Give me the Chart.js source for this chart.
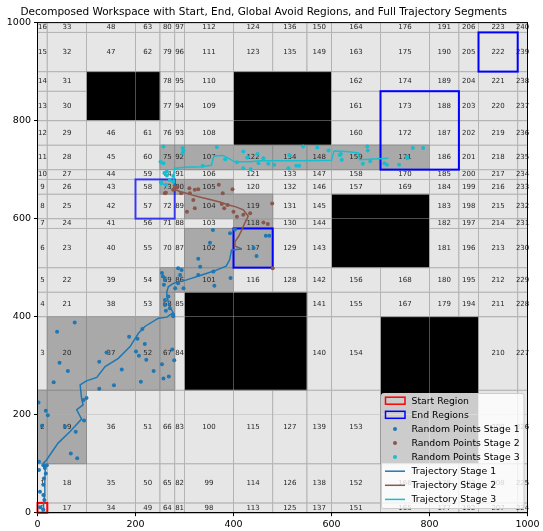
<!DOCTYPE html>
<html>
<head>
<meta charset="utf-8">
<script src="https://cdn.jsdelivr.net/npm/chart.js@4"></script>
<style>
  body { margin: 0; background: #fff; }
</style>
</head>
<body>
<canvas id="chart" width="543" height="531"></canvas>
<script>
// cell decomposition edges
const colEdges = [0, 20, 100, 200, 250, 280, 300, 400, 480, 550, 600, 700, 800, 860, 900, 980, 1000]
const rowEdges = [0, 20, 100, 250, 400, 450, 500, 580, 600, 650, 680, 700, 750, 800, 860, 900, 980, 1000]

// global avoid regions [x0, x1, y0, y1]
const obstacles = [
  [100, 250, 800, 900],
  [400, 600, 750, 900],
  [300, 550, 250, 450],
  [600, 800, 500, 650],
  [700, 900, 100, 400],
]

// cells used by the trajectory stages
const stageCells = [2, 19, 20, 37, 52, 67, 68, 69, 86, 101, 102, 117, 118, 104, 119, 73, 90, 105,
  75, 92, 107, 122, 134, 148, 159, 171]

const startRegion = [0, 20, 0, 20]
const endRegions = [
  [200, 280, 600, 680],
  [400, 480, 500, 580],
  [700, 860, 700, 860],
  [900, 980, 900, 980],
]

const trajStage1 = [
  [10, 2], [12, 12], [14, 33], [15, 67], [16, 94], [12, 101], [18, 107], [42, 142], [66, 165],
  [90, 191], [80, 210], [93, 220], [90, 233], [87, 261], [100, 269], [121, 276], [138, 298],
  [165, 315], [189, 339], [206, 366], [219, 380], [247, 397], [264, 399], [277, 408], [270, 420],
  [264, 441], [264, 451], [267, 461], [277, 468], [287, 471], [298, 473], [332, 484], [360, 493],
  [385, 503], [392, 516], [396, 536], [417, 538],
]
const trajStage2 = [
  [417, 538], [403, 544], [403, 553], [410, 563], [417, 577], [423, 591], [430, 605], [420, 618],
  [405, 624], [390, 628], [372, 634], [352, 639], [335, 643], [316, 648], [304, 652], [292, 655],
  [281, 659], [277, 669],
]
const trajStage3 = [
  [277, 669], [278, 676], [278, 691], [280, 703], [300, 705], [335, 706], [355, 709], [360, 728],
  [379, 729], [403, 716], [434, 716], [454, 718], [488, 718], [542, 718], [600, 719], [605, 738],
  [631, 737], [655, 734], [657, 720], [716, 723],
]

const pointsStage1 = [
  [76, 388], [40, 369], [45, 306], [62, 289], [33, 266], [141, 327], [126, 308], [172, 292],
  [126, 253], [156, 260], [187, 359], [204, 355], [214, 375], [201, 329], [207, 320], [219, 344],
  [222, 312], [237, 289], [211, 267], [254, 303], [257, 274], [268, 278], [275, 333], [279, 311],
  [262, 412], [277, 401], [260, 424], [100, 234], [94, 230], [95, 188], [78, 165], [56, 176],
  [68, 121], [81, 111], [17, 208], [21, 199], [9, 177], [2, 225], [3, 104], [12, 97], [19, 97],
  [3, 87], [15, 91], [17, 80], [13, 70], [12, 57], [5, 43], [12, 36], [14, 26], [5, 11], [12, 6],
  [254, 489], [256, 482], [260, 475], [258, 465], [287, 499], [291, 485], [281, 458], [298, 458],
  [287, 468], [267, 441], [260, 434], [270, 417], [277, 404], [294, 495], [328, 485], [359, 492],
  [361, 463], [394, 479], [332, 502], [328, 518], [352, 551], [358, 577], [393, 570], [403, 578],
  [441, 540], [447, 524], [466, 565], [473, 565],
]
const pointsStage2 = [
  [260, 652], [277, 659], [293, 652], [285, 664], [311, 652], [321, 659], [328, 660], [318, 638],
  [305, 614], [321, 621], [370, 669], [378, 652], [398, 660], [388, 628], [381, 621], [400, 614],
  [407, 604], [420, 608], [434, 611], [479, 631], [461, 592], [470, 589], [480, 499], [310, 662],
  [376, 630], [262, 653], [281, 665],
]
const pointsStage3 = [
  [257, 747], [296, 744], [251, 716], [257, 713], [366, 746], [337, 708], [259, 693], [264, 688],
  [277, 676], [252, 674], [262, 669], [383, 721], [420, 737], [449, 732], [451, 713], [471, 712],
  [483, 710], [428, 725], [298, 739], [296, 734], [420, 703], [435, 701], [407, 715], [264, 696],
  [270, 679], [253, 672], [277, 687], [461, 723], [512, 703], [534, 708], [514, 730], [542, 747],
  [571, 745], [594, 739], [617, 730], [621, 720], [619, 732], [528, 708], [664, 712], [679, 717],
  [673, 747], [674, 739], [708, 713], [713, 710], [738, 710], [754, 727], [766, 744], [787, 744],
  [755, 723],
]

const legendLabels = [
  "Start Region", "End Regions", "Random Points Stage 1", "Random Points Stage 2",
  "Random Points Stage 3", "Trajectory Stage 1", "Trajectory Stage 2", "Trajectory Stage 3",
]

const FONT = "'DejaVu Sans', sans-serif"
const C1 = "#1f77b4"
const C2 = "#8c564b"
const C3 = "#17becf"

function inObstacle(x, y) {
  return obstacles.some((o) => x > o[0] && x < o[1] && y > o[2] && y < o[3])
}

// number the free cells column by column, bottom to top
const cells = []
for (let c = 0; c < colEdges.length - 1; c++) {
  for (let r = 0; r < rowEdges.length - 1; r++) {
    const x0 = colEdges[c], x1 = colEdges[c + 1], y0 = rowEdges[r], y1 = rowEdges[r + 1]
    if (inObstacle((x0 + x1) / 2, (y0 + y1) / 2)) continue
    cells.push({ id: cells.length, x0, x1, y0, y1 })
  }
}

function toPx(chart, r) {
  const xs = chart.scales.x, ys = chart.scales.y
  const a = xs.getPixelForValue(r[0]), b = xs.getPixelForValue(r[1])
  const c = ys.getPixelForValue(r[3]), d = ys.getPixelForValue(r[2])
  return [a, c, b - a, d - c]
}

const workspacePlugin = {
  id: "workspace",
  beforeDraw(chart) {
    const ctx = chart.ctx
    ctx.save()
    ctx.lineWidth = 1
    cells.forEach((cell) => {
      const [x, y, w, h] = toPx(chart, [cell.x0, cell.x1, cell.y0, cell.y1])
      ctx.fillStyle = "#e6e6e6"
      ctx.fillRect(x, y, w, h)
      ctx.strokeStyle = "#b4b4b4"
      ctx.strokeRect(x, y, w, h)
    })
    cells.filter((cell) => stageCells.includes(cell.id)).forEach((cell) => {
      const [x, y, w, h] = toPx(chart, [cell.x0, cell.x1, cell.y0, cell.y1])
      ctx.fillStyle = "#a9a9a9"
      ctx.fillRect(x, y, w, h)
      ctx.strokeStyle = "#8e8e8e"
      ctx.strokeRect(x, y, w, h)
    })
    obstacles.forEach((o) => {
      const [x, y, w, h] = toPx(chart, o)
      ctx.fillStyle = "#000"
      ctx.fillRect(x, y, w, h)
      ctx.strokeStyle = "#9a9a9a"
      ctx.strokeRect(x, y, w, h)
    })
    ctx.fillStyle = "#262626"
    ctx.font = "7px " + FONT
    ctx.textAlign = "center"
    ctx.textBaseline = "middle"
    cells.forEach((cell) => {
      const px = chart.scales.x.getPixelForValue((cell.x0 + cell.x1) / 2)
      const py = chart.scales.y.getPixelForValue((cell.y0 + cell.y1) / 2)
      ctx.fillText(String(cell.id), px, py)
    })
    ctx.restore()
  },
  beforeDatasetsDraw(chart) {
    const ctx = chart.ctx
    ctx.save()
    ctx.lineWidth = 2
    ctx.strokeStyle = "red"
    const [sx, sy, sw, sh] = toPx(chart, startRegion)
    ctx.strokeRect(sx, sy, sw, sh)
    endRegions.forEach((r, i) => {
      const [x, y, w, h] = toPx(chart, r)
      ctx.strokeStyle = i === 0 ? "rgba(0,0,255,0.7)" : "blue"
      ctx.strokeRect(x, y, w, h)
    })
    ctx.restore()
  },
  afterDatasetsDraw(chart) {
    const { ctx, chartArea: a } = chart
    ctx.save()
    ctx.strokeStyle = "#000"
    ctx.lineWidth = 1
    ctx.strokeRect(a.left, a.top, a.right - a.left, a.bottom - a.top)
    ctx.restore()
  },
  afterDraw(chart) {
    const ctx = chart.ctx
    ctx.save()
    const bx = 381.5, by = 393.5, bw = 142.5, bh = 115
    ctx.fillStyle = "rgba(255,255,255,0.8)"
    ctx.strokeStyle = "#cccccc"
    ctx.lineWidth = 1
    ctx.beginPath()
    ctx.roundRect(bx, by, bw, bh, 2)
    ctx.fill()
    ctx.stroke()
    const rowH = 14.1
    const y0 = 400.7
    ctx.font = "9.3px " + FONT
    ctx.textBaseline = "middle"
    ctx.textAlign = "left"
    legendLabels.forEach((label, i) => {
      const cy = y0 + i * rowH
      if (i === 0 || i === 1) {
        ctx.lineWidth = 1.5
        ctx.strokeStyle = i === 0 ? "red" : "blue"
        ctx.strokeRect(385.5, cy - 3.5, 19.5, 7)
      } else if (i < 5) {
        ctx.fillStyle = [C1, C2, C3][i - 2]
        ctx.beginPath()
        ctx.arc(395, cy, 2, 0, Math.PI * 2)
        ctx.fill()
      } else {
        ctx.strokeStyle = [C1, C2, C3][i - 5]
        ctx.lineWidth = 1.5
        ctx.beginPath()
        ctx.moveTo(385, cy)
        ctx.lineTo(405, cy)
        ctx.stroke()
      }
      ctx.fillStyle = "#000"
      ctx.fillText(label, 411.5, cy + 0.5)
    })
    ctx.restore()
  },
}

const toXY = (arr) => arr.map((p) => ({ x: p[0], y: p[1] }))

const axisCommon = {
  type: "linear",
  min: 0,
  max: 1000,
  ticks: {
    stepSize: 200,
    color: "#000",
    font: { family: FONT, size: 9.5 },
    padding: 3,
    callback: (v) => String(v),
  },
  grid: {
    color: "rgba(176,176,176,0.55)",
    lineWidth: 0.8,
    tickColor: "#000",
    tickLength: 3.5,
    tickWidth: 1,
  },
  border: { display: true, color: "#000", width: 1 },
}

new Chart(document.getElementById("chart"), {
  type: "scatter",
  plugins: [workspacePlugin],
  data: {
    datasets: [
      { data: toXY(trajStage1), showLine: true, borderColor: C1, borderWidth: 1.5, pointRadius: 0, order: 1 },
      { data: toXY(trajStage2), showLine: true, borderColor: C2, borderWidth: 1.5, pointRadius: 0, order: 2 },
      { data: toXY(trajStage3), showLine: true, borderColor: C3, borderWidth: 1.5, pointRadius: 0, order: 3 },
      { data: toXY(pointsStage1), backgroundColor: C1, borderWidth: 0, pointRadius: 2, order: 4 },
      { data: toXY(pointsStage2), backgroundColor: C2, borderWidth: 0, pointRadius: 2, order: 5 },
      { data: toXY(pointsStage3), backgroundColor: C3, borderWidth: 0, pointRadius: 2, order: 6 },
    ],
  },
  options: {
    responsive: false,
    devicePixelRatio: 1,
    animation: false,
    layout: { padding: { top: 0, left: 0, right: 15.5, bottom: 0 } },
    scales: {
      x: {
        ...axisCommon,
        position: "bottom",
        afterFit: (s) => { s.height = 18.3 },
      },
      y: {
        ...axisCommon,
        position: "left",
        afterFit: (s) => { s.width = 37.5 },
      },
    },
    plugins: {
      legend: { display: false },
      tooltip: { enabled: false },
      title: {
        display: true,
        text: "Decomposed Workspace with Start, End, Global Avoid Regions, and Full Trajectory Segments",
        color: "#000",
        font: { family: FONT, size: 10.5, weight: "normal" },
        padding: { top: 6, bottom: 4 },
      },
    },
  },
})
</script>
</body>
</html>
